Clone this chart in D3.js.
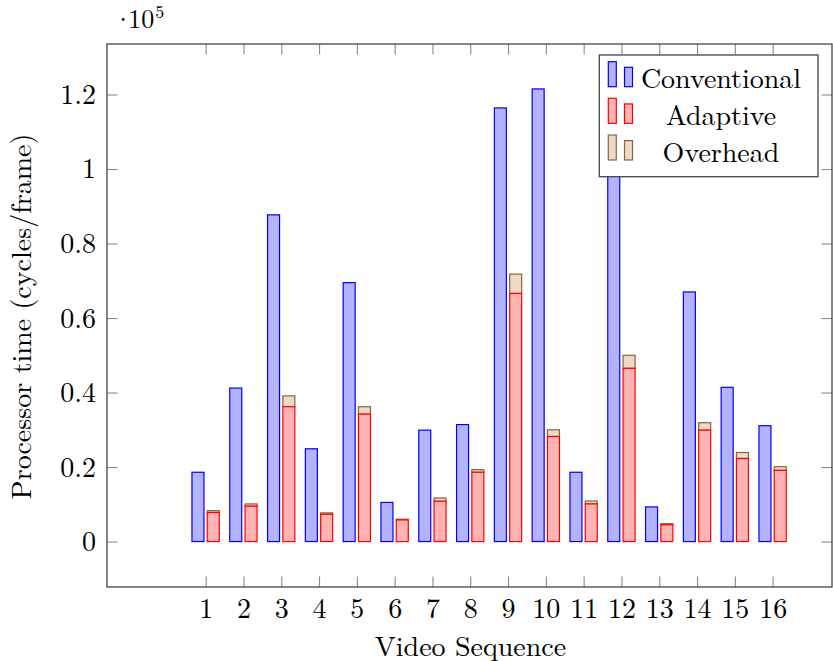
<!DOCTYPE html>
<html>
<head>
<meta charset="utf-8">
<script src="https://cdn.jsdelivr.net/npm/d3@7"></script>
<style>
  body { margin: 0; background: #fff; }
</style>
</head>
<body>
<div id="chart"></div>
<script>
// data (processor cycles per frame)
var sequences = [1, 2, 3, 4, 5, 6, 7, 8, 9, 10, 11, 12, 13, 14, 15, 16];
var conventional = [18600, 41200, 87700, 24900, 69500, 10500, 29900, 31400, 116400, 121500, 18600, 105000, 9300, 67000, 41400, 31100];
var adaptive = [7800, 9500, 36200, 7300, 34200, 5800, 10800, 18600, 66600, 28200, 10100, 46500, 4500, 29900, 22300, 19100];
var overhead = [500, 600, 2900, 400, 2000, 200, 900, 700, 5200, 1800, 800, 3500, 300, 2000, 1600, 1000];
var yTicks = [0, 20000, 40000, 60000, 80000, 100000, 120000];
var yTickLabels = ["0", "0.2", "0.4", "0.6", "0.8", "1", "1.2"];
var seriesNames = ["Conventional", "Adaptive", "Overhead"];

var svgWidth = 833;
var svgHeight = 661;
var lm = "'Latin Modern Roman'";

// plot box
var box = { left: 107, right: 832, top: 44, bottom: 587 };

var svg = d3.select("#chart")
    .append("svg")
    .attr("width", svgWidth)
    .attr("height", svgHeight);

var xScale = d3.scaleLinear()
    .domain([-1.61, 17.57])
    .range([box.left, box.right]);

var yScale = d3.scaleLinear()
    .domain([-12200, 133560])
    .range([box.bottom, box.top]);

var barW = 12;
var tickLen = 10.5;
var tickColor = "#8a8a8a";

// axes
var bottomAxis = d3.axisBottom(xScale)
    .tickValues(sequences)
    .tickFormat(d3.format("d"))
    .tickSizeInner(-tickLen).tickSizeOuter(0).tickPadding(11);
var topAxis = d3.axisTop(xScale)
    .tickValues(sequences).tickFormat("")
    .tickSizeInner(-tickLen).tickSizeOuter(0);
var leftAxis = d3.axisLeft(yScale)
    .tickValues(yTicks)
    .tickFormat((d, i) => yTickLabels[i])
    .tickSizeInner(-tickLen).tickSizeOuter(0).tickPadding(11);
var rightAxis = d3.axisRight(yScale)
    .tickValues(yTicks).tickFormat("")
    .tickSizeInner(-tickLen).tickSizeOuter(0);

function styleAxis(g) {
    g.select(".domain").remove();
    g.selectAll(".tick line").attr("stroke", tickColor).attr("stroke-width", 1.1);
    g.selectAll(".tick text")
        .style("font-family", lm)
        .style("font-size", "28px")
        .attr("fill", "#000");
}

svg.append("g").attr("transform", `translate(0, ${box.bottom})`).call(bottomAxis).call(styleAxis);
svg.append("g").attr("transform", `translate(0, ${box.top})`).call(topAxis).call(styleAxis);
svg.append("g").attr("transform", `translate(${box.left}, 0)`).call(leftAxis).call(styleAxis)
    .selectAll(".tick text").attr("dy", "0.32em");
svg.append("g").attr("transform", `translate(${box.right}, 0)`).call(rightAxis).call(styleAxis);

// bars
var bars = svg.append("g");

bars.selectAll(".conv")
    .data(sequences)
    .enter()
    .append("rect")
    .attr("x", (d) => xScale(d) - 7.7 - barW / 2)
    .attr("y", (d, i) => yScale(conventional[i]))
    .attr("width", barW)
    .attr("height", (d, i) => yScale(0) - yScale(conventional[i]))
    .attr("fill", "#b3b3ff")
    .attr("stroke", "#0000ff")
    .attr("stroke-width", 1.2);

bars.selectAll(".over")
    .data(sequences)
    .enter()
    .append("rect")
    .attr("x", (d) => xScale(d) + 7.6 - barW / 2)
    .attr("y", (d, i) => yScale(adaptive[i] + overhead[i]))
    .attr("width", barW)
    .attr("height", (d, i) => yScale(adaptive[i]) - yScale(adaptive[i] + overhead[i]))
    .attr("fill", "#ecd9c6")
    .attr("stroke", "#8a6440")
    .attr("stroke-width", 1.2);

bars.selectAll(".adapt")
    .data(sequences)
    .enter()
    .append("rect")
    .attr("x", (d) => xScale(d) + 7.6 - barW / 2)
    .attr("y", (d, i) => yScale(adaptive[i]))
    .attr("width", barW)
    .attr("height", (d, i) => yScale(0) - yScale(adaptive[i]))
    .attr("fill", "#ffb3b3")
    .attr("stroke", "#ff0000")
    .attr("stroke-width", 1.2);

// frame
svg.append("rect")
    .attr("x", box.left).attr("y", box.top)
    .attr("width", box.right - box.left)
    .attr("height", box.bottom - box.top)
    .attr("fill", "none")
    .attr("stroke", "#444")
    .attr("stroke-width", 1.3);

function label(sel, size) {
    return sel.style("font-family", lm).style("font-size", size + "px").attr("fill", "#000");
}

// scale marker  ·10^5 (one text, tight dot)
var mult = label(svg.append("text"), 26).attr("x", 113).attr("y", 28);
mult.append("tspan").text("·");
mult.append("tspan").attr("dx", -5).text("10");
mult.append("tspan").attr("dx", 1).attr("dy", -10).style("font-size", "18px").text("5");

// axis labels
label(svg.append("text"), 28)
    .attr("transform", "translate(31, 316.5) rotate(-90)")
    .attr("text-anchor", "middle")
    .text("Processor time (cycles/frame)");

label(svg.append("text"), 28)
    .attr("x", 470.5).attr("y", 656)
    .attr("text-anchor", "middle")
    .text("Video Sequence");

// legend
var legend = svg.append("g");
legend.append("rect")
    .attr("x", 599.3).attr("y", 55)
    .attr("width", 218.7).attr("height", 121.7)
    .attr("fill", "#fff")
    .attr("stroke", "#444")
    .attr("stroke-width", 1.3);

var legendFill = ["#b3b3ff", "#ffb3b3", "#ecd9c6"];
var legendStroke = ["#0000ff", "#ff0000", "#8a6440"];

seriesNames.forEach(function (name, i) {
    var base = 86.7 + i * 36.65;
    legend.append("rect")
        .attr("x", 608.3).attr("y", base - 25)
        .attr("width", 8).attr("height", 25)
        .attr("fill", legendFill[i]).attr("stroke", legendStroke[i]).attr("stroke-width", 1.2);
    legend.append("rect")
        .attr("x", 624.5).attr("y", base - 19.4)
        .attr("width", 8).attr("height", 19.4)
        .attr("fill", legendFill[i]).attr("stroke", legendStroke[i]).attr("stroke-width", 1.2);
    label(legend.append("text"), 28)
        .attr("x", 721).attr("y", base + 1.5)
        .attr("text-anchor", "middle")
        .text(name);
});
</script>
</body>
</html>
